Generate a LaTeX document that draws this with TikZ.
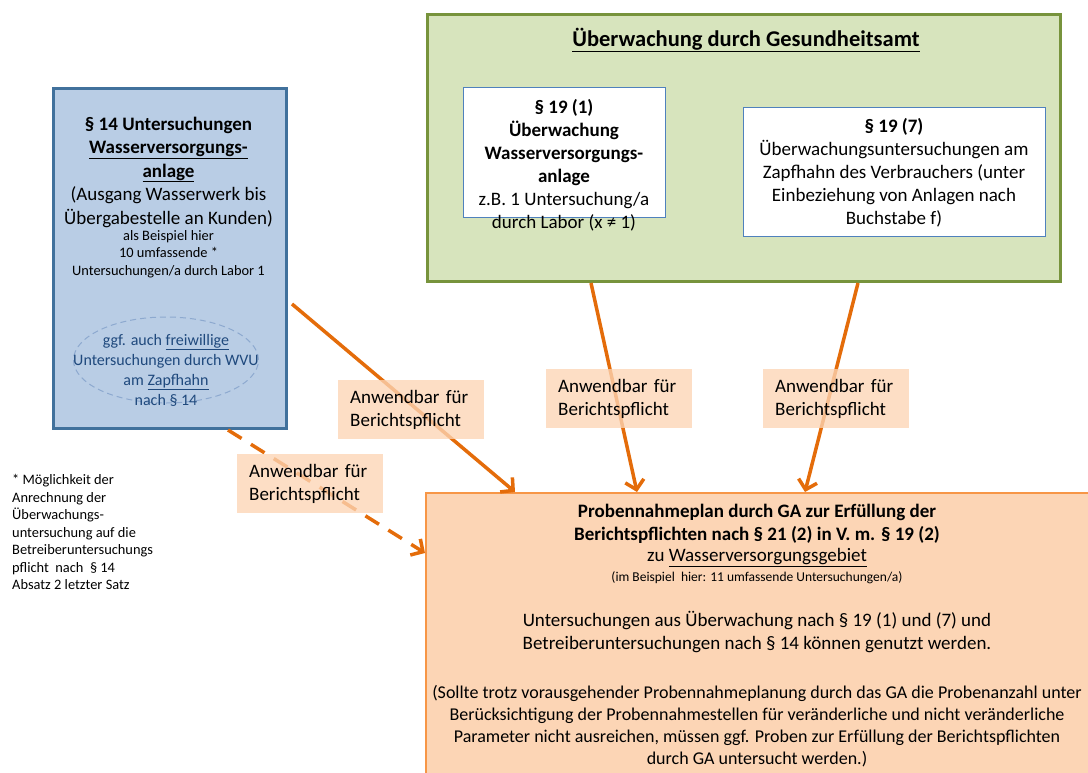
\documentclass[tikz,border=0pt]{standalone}
\usepackage{fontspec}
\setmainfont{Carlito}
\usetikzlibrary{arrows.meta,shapes.geometric,positioning}

\definecolor{wvafill}{HTML}{B9CDE5}
\definecolor{wvaline}{HTML}{41719C}
\definecolor{wvudash}{HTML}{8DA9CF}
\definecolor{wvutext}{HTML}{1F497D}
\definecolor{gafill}{HTML}{D7E4BD}
\definecolor{galine}{HTML}{77933C}
\definecolor{innerline}{HTML}{4F81BD}
\definecolor{planfill}{HTML}{FCD5B5}
\definecolor{planline}{HTML}{F79646}
\definecolor{feedcol}{HTML}{E46C0A}

\newcommand\fsz[2]{\fontsize{#1}{#2}\selectfont}

\tikzset{
  box/.style={anchor=north west, inner sep=0pt},
  para/.style={align=center, inner sep=0pt},
  hint/.style={anchor=north west, fill=planfill, fill opacity=0.78, text opacity=1,
    minimum width=146, minimum height=59, text width=122, inner xsep=12, inner ysep=0,
    align=left, font=\fsz{19}{23}},
  feed/.style={draw=feedcol, line width=3.5pt, -{Straight Barb[length=9pt,width=19pt]}},
}

\begin{document}
\begin{tikzpicture}[x=1pt,y=-1pt]
\useasboundingbox (0,0) rectangle (1088,772);
\clip (0,0) rectangle (1088,772);

% Gesundheitsamt
\node[box, draw=galine, fill=gafill, line width=3pt, minimum width=633, minimum height=267] (ga) at (426,13) {};
\node[para, font=\bfseries\fsz{22.5}{27}] (gatitle) at (746,40) {\underline{Überwachung durch Gesundheitsamt}};
\node[box, draw=innerline, fill=white, line width=0.8pt, minimum width=202, minimum height=130] (ga1) at (463,87) {};
\node[para, font=\fsz{19}{23}] (ga1txt) at (564,165.5) {\textbf{§ 19 (1)}\\ \textbf{Überwachung}\\ \textbf{Wasserversorgungs-}\\ \textbf{anlage}\\ z.B. 1 Untersuchung/a\\ durch Labor (x ≠ 1)};
\node[box, draw=innerline, fill=white, line width=0.8pt, minimum width=302, minimum height=129] (ga7) at (743,107) {};
\node[para, font=\fsz{19}{23}] (ga7txt) at (894,173) {\textbf{§ 19 (7)}\\ Überwachungsuntersuchungen am\\ Zapfhahn des Verbrauchers (unter\\ Einbeziehung von Anlagen nach\\ Buchstabe f)};

% Betreiber
\node[box, draw=wvaline, fill=wvafill, line width=3pt, minimum width=233, minimum height=340] (wva) at (52,87) {};
\node[para, font=\bfseries\fsz{19}{23.5}] (wvahead) at (168.5,149.5) {§ 14 Untersuchungen\\ \underline{Wasserversorgungs-}\\ \underline{anlage}};
\node[para, font=\fsz{19}{24}] (wvaspan) at (168.5,207) {(Ausgang Wasserwerk bis\\ Übergabestelle an Kunden)};
\node[para, font=\fsz{14.4}{17.5}] (wvacount) at (168.5,254) {als Beispiel hier\\ 10 umfassende *\\ Untersuchungen/a durch Labor 1};
\node[ellipse, draw=wvudash, dash pattern=on 6pt off 4pt, line width=1pt, minimum width=185, minimum height=86] (wvu) at (166,360) {};
\node[para, text=wvutext, font=\fsz{16}{20}] (wvutxt) at (166,370) {ggf. auch \underline{freiwillige}\\ Untersuchungen durch WVU\\ am \underline{Zapfhahn}\\ nach § 14};

\node[anchor=west, align=left, inner sep=0pt, font=\fsz{14.4}{17.5}] (note) at (12,532) {* Möglichkeit der\\ Anrechnung der\\ Überwachungs-\\ untersuchung auf die\\ Betreiberuntersuchungs\\ pflicht~ nach~ §~14\\ Absatz 2 letzter Satz};

% Probennahmeplan
\node[box, draw=planline, fill=planfill, line width=1.5pt, minimum width=700, minimum height=320] (plan) at (425,492) {};
\node[para, font=\bfseries\fsz{19}{23}] (plantitle) at (757,524) {Probennahmeplan durch GA zur Erfüllung der\\ Berichtspflichten nach § 21 (2) in V. m. § 19 (2)};
\node[para, font=\fsz{19}{23}] (planarea) at (757,558) {zu \underline{Wasserversorgungsgebiet}};
\node[para, font=\fsz{13.5}{16}] (planex) at (757,578) {(im Beispiel~ hier: 11 umfassende Untersuchungen/a)};
\node[para, font=\fsz{19}{23}] (planuse) at (757,632) {Untersuchungen aus Überwachung nach § 19 (1) und (7) und\\ Betreiberuntersuchungen nach § 14 können genutzt werden.};
\node[para, font=\fsz{18}{22}] (planrest) at (757,726) {(Sollte trotz vorausgehender Probennahmeplanung durch das GA die Probenanzahl unter\\ Berücksichtigung der Probennahmestellen für veränderliche und nicht veränderliche\\ Parameter nicht ausreichen, müssen ggf. Proben zur Erfüllung der Berichtspflichten\\ durch GA untersucht werden.)};

% Pfeile
\draw[feed] ([shift={(4,217)}]wva.north east) -- ([xshift=90]plan.north west);
\draw[feed, dash pattern=on 16pt off 11pt] ([xshift=-60]wva.south east) -- ([yshift=-61]plan.north west);
\draw[feed] ([xshift=165]ga.south west) -- ([xshift=212]plan.north west);
\draw[feed] ([xshift=432]ga.south west) -- ([xshift=380]plan.north west);

\node[hint] (hintwvu) at (237,454) {Anwendbar für\\ Berichtspflicht};
\node[hint] (hintwva) at (338,380) {Anwendbar für\\ Berichtspflicht};
\node[hint] (hintga1) at (546,369) {Anwendbar für\\ Berichtspflicht};
\node[hint] (hintga7) at (763,369) {Anwendbar für\\ Berichtspflicht};
\end{tikzpicture}
\end{document}
